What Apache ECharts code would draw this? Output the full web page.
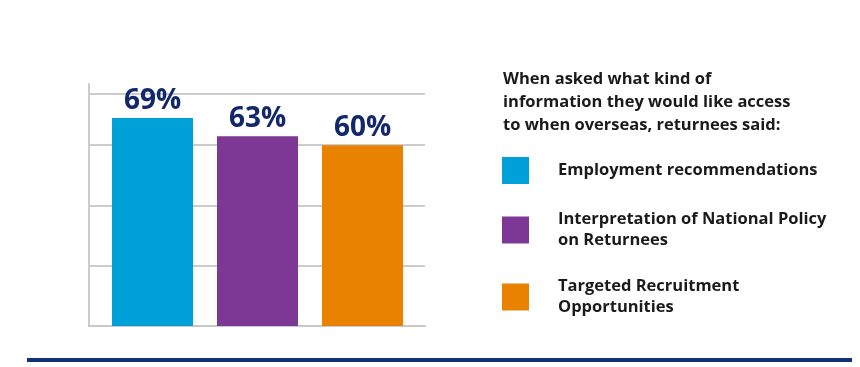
<!DOCTYPE html>
<html>
<head>
<meta charset="utf-8">
<script src="https://cdn.jsdelivr.net/npm/echarts@6/dist/echarts.min.js"></script>
<style>html,body{margin:0;padding:0;background:#fff}#c{width:860px;height:367px}</style>
</head>
<body>
<div id="c"></div>
<script>
var categories = ['Employment recommendations', 'Interpretation of National Policy\non Returnees', 'Targeted Recruitment\nOpportunities'];
var values = [69, 63, 60];
var colors = ['#00A0D9', '#7D3896', '#E88200'];
var titleText = 'When asked what kind of\ninformation they would like access\nto when overseas, returnees said:';

var FONT = '"Open Sans", "Liberation Sans", sans-serif';
var chart = echarts.init(document.getElementById('c'), null, {renderer: 'canvas'});

var series = categories.map(function (name, i) {
  var d = categories.map(function (_, j) { return j === i ? values[i] : '-'; });
  return {
    name: name,
    type: 'bar',
    stack: 'all',
    xAxisIndex: 2,
    yAxisIndex: 2,
    barWidth: 81,
    data: d,
    itemStyle: {color: colors[i]},
    label: {
      show: true,
      position: 'top',
      distance: 3,
      formatter: '{c}%',
      color: '#13286B',
      fontSize: 28,
      fontWeight: 'bold',
      fontFamily: FONT
    },
    silent: true,
    animation: false
  };
});

chart.setOption({
  animation: false,
  title: {
    text: titleText,
    left: 498,
    top: 63,
    textStyle: {fontSize: 16.5, fontWeight: 'bold', color: '#1a1a1a', fontFamily: FONT, lineHeight: 23}
  },
  legend: {
    orient: 'vertical',
    left: 502,
    top: 157,
    padding: 0,
    icon: 'rect',
    itemWidth: 27,
    itemHeight: 27,
    itemGap: 25,
    selectedMode: false,
    data: categories,
    textStyle: {fontSize: 16.5, fontWeight: 'bold', color: '#1a1a1a', fontFamily: FONT, lineHeight: 21, padding: [0, 0, 0, 24]}
  },
  grid: [
    {left: 89, right: 435, top: 94, bottom: 41},
    {left: 89, right: 435, top: 84, bottom: 41},
    {left: 100, right: 445, top: 94, bottom: 41}
  ],
  xAxis: [
    {gridIndex: 0, type: 'category', data: categories, axisLine: {show: true, lineStyle: {color: '#c8c8c8', width: 2}}, axisTick: {show: false}, axisLabel: {show: false}},
    {gridIndex: 1, type: 'category', data: categories, show: false},
    {gridIndex: 2, type: 'category', data: categories, show: false}
  ],
  yAxis: [
    {gridIndex: 0, type: 'value', min: 0, max: 77, interval: 20, axisLine: {show: false}, axisTick: {show: false}, axisLabel: {show: false}, splitLine: {show: true, lineStyle: {color: '#cccccc', width: 2}}},
    {gridIndex: 1, type: 'value', min: 0, max: 100, axisLine: {show: true, lineStyle: {color: '#cccccc', width: 2}}, axisTick: {show: false}, axisLabel: {show: false}, splitLine: {show: false}},
    {gridIndex: 2, type: 'value', min: 0, max: 77, show: false, splitLine: {show: false}}
  ],
  series: series,
  graphic: [{
    type: 'rect',
    shape: {x: 27, y: 358, width: 825, height: 4},
    style: {fill: '#13307A'},
    silent: true
  }]
});
</script>
</body>
</html>
